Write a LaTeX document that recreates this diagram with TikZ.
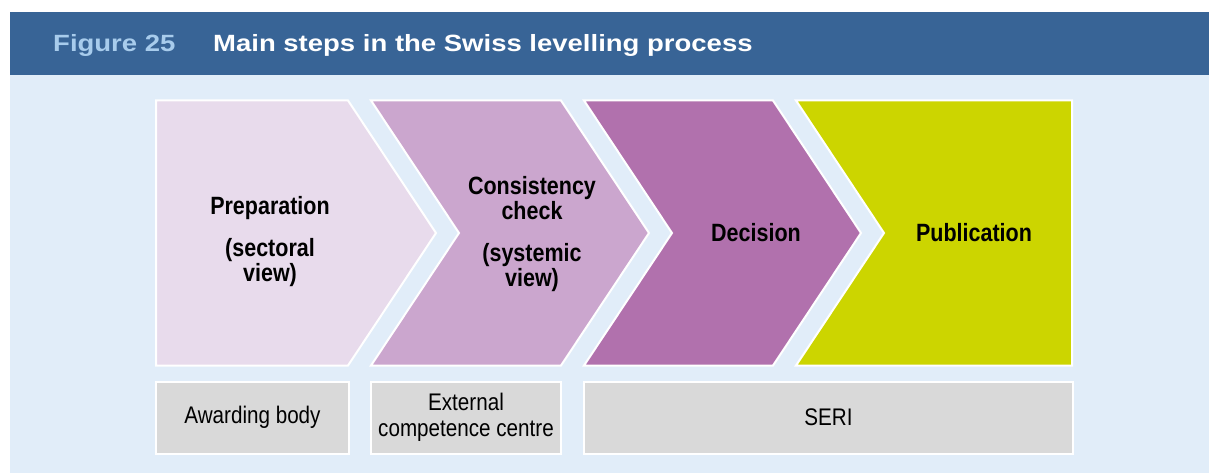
\documentclass[tikz,border=0pt]{standalone}
\usepackage{fontspec}
\setmainfont{Liberation Sans}
\newfontfamily\condfont[FakeStretch=0.86]{Liberation Sans}
\newfontfamily\headfont[FakeStretch=1.17]{Liberation Sans}
\usepackage{xcolor}
\usetikzlibrary{positioning}

\definecolor{headblue}{HTML}{386496}
\definecolor{figlabelcol}{HTML}{A8CCEC}
\definecolor{bgblue}{HTML}{E1EDF9}
\definecolor{prepcol}{HTML}{E8DBEC}
\definecolor{conscol}{HTML}{CBA6CE}
\definecolor{deccol}{HTML}{B171AD}
\definecolor{pubcol}{HTML}{CCD500}
\definecolor{boxgray}{HTML}{D9D9D9}

\begin{document}
\begin{tikzpicture}[x=1pt, y=-1pt,
    chevron/.style={draw=white, line width=2pt},
    steptext/.style={font=\condfont\bfseries\fontsize{25}{25}\selectfont, align=center, inner sep=0pt},
    actorbox/.style={draw=white, line width=2pt, fill=boxgray, minimum height=72pt,
        font=\condfont\fontsize{24}{26}\selectfont, align=center, inner sep=0pt},
    headtext/.style={font=\headfont\bfseries\fontsize{23.5}{23.5}\selectfont, inner sep=0pt, anchor=base west}]
    \useasboundingbox (0,0) rectangle (1209,473);
    \fill[white] (0,0) rectangle (1209,473);
    \fill[bgblue] (10,75) rectangle (1209,473);
    \fill[headblue] (10,12) rectangle (1209,75);

    % header
    \node[headtext, text=figlabelcol] (figlabel) at (53,52) {Figure 25};
    \node[headtext, text=white] (figtitle) at (213,52) {Main steps in the Swiss levelling process};

    % steps
    \fill[prepcol, chevron] (156,100.5) -- (348,100.5) -- (436,233) -- (348,365.5) -- (156,365.5) -- cycle;
    \fill[conscol, chevron] (371,100.5) -- (561,100.5) -- (649,233) -- (561,365.5) -- (371,365.5) -- (459,233) -- cycle;
    \fill[deccol, chevron] (584,100.5) -- (773,100.5) -- (861,233) -- (773,365.5) -- (584,365.5) -- (672,233) -- cycle;
    \fill[pubcol, chevron] (796,100.5) -- (1072,100.5) -- (1072,365.5) -- (796,365.5) -- (884,233) -- cycle;

    \node[steptext] (prep) at (270,242) {Preparation\\[17pt](sectoral\\view)};
    \node[steptext] (cons) at (532,234) {Consistency\\check\\[17pt](systemic\\view)};
    \node[steptext] (dec) at (756,233) {Decision};
    \node[steptext] (pub) at (974,233) {Publication};

    % who does it
    \node[actorbox, minimum width=193pt] (awarding) at (252.5,417.5) {\raisebox{-2pt}{Awarding body}};
    \node[actorbox, minimum width=190pt] (extern) at (466,417.5) {External\\competence centre};
    \node[actorbox, minimum width=489pt] (seri) at (828.5,417.5) {SERI};
\end{tikzpicture}
\end{document}
